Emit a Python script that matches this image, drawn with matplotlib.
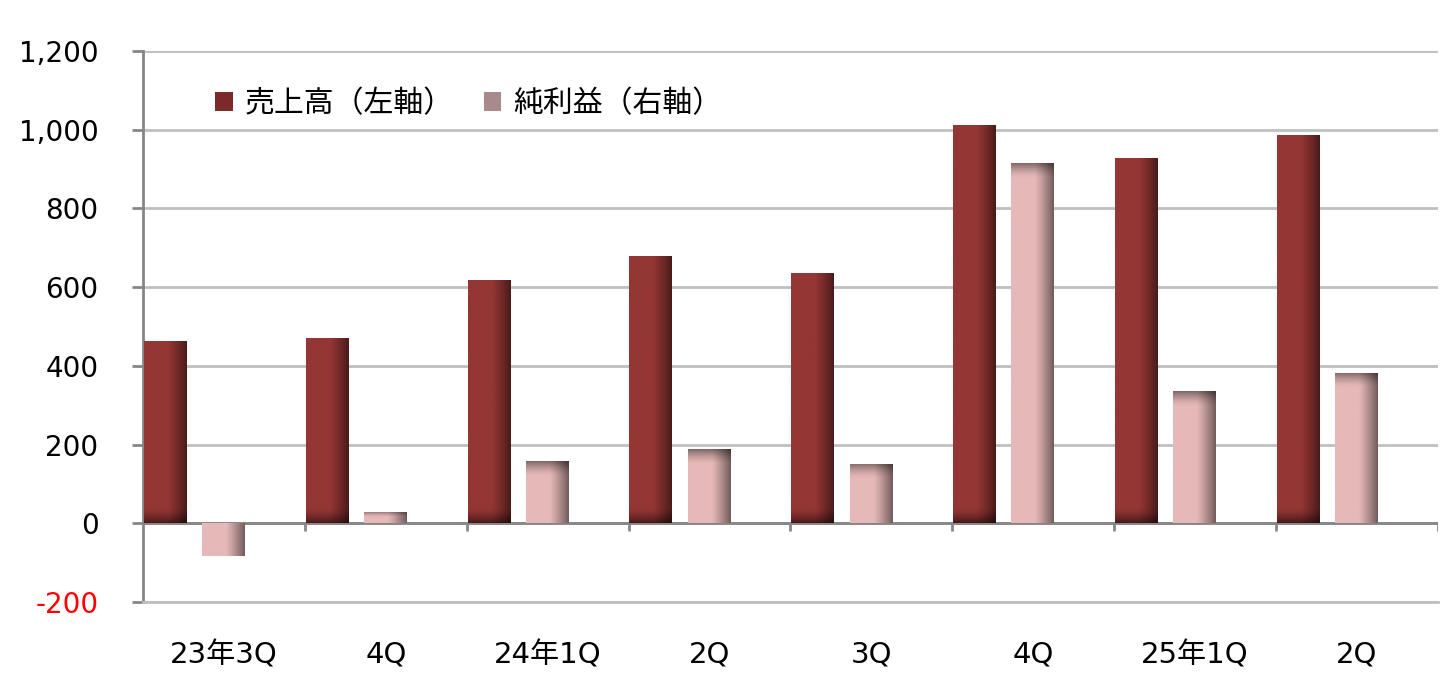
import matplotlib.pyplot as plt
import numpy as np
from matplotlib.colors import to_rgb
from matplotlib.patches import Patch

categories = ["23年3Q", "4Q", "24年1Q", "2Q", "3Q", "4Q", "25年1Q", "2Q"]
sales = [464, 470, 617, 680, 637, 1013, 929, 987]       # 売上高 (left axis)
net_profit = [-84, 28, 157, 188, 150, 916, 335, 383]    # 純利益 (right axis, hidden)

sales_color = "#943634"
profit_color = "#E6B9B8"
grid_color = "#BFBFBF"
axis_color = "#868686"


def shaded_bar(ax, x0, width, h, base, shade_side):
    """draw a bar with a dark right edge and a dark band at one end"""
    bars = ax.bar(x0, h, width=width, align="edge", color="none", edgecolor="none")
    patch = bars[0]
    nx, ny = 60, 200
    rgb = np.array(to_rgb(base))
    u = np.linspace(0, 1, nx)
    v = np.linspace(0, 1, ny)  # 0 = bottom row of bar, 1 = top
    # horizontal darkening towards the right edge
    hx = np.clip((u - 0.55) / 0.45, 0, 1) ** 1.2 * 0.5
    # vertical band
    band = min(38.0 / max(abs(h), 1), 0.5)
    if shade_side == "bottom":
        hv = np.clip((band - v) / band, 0, 1) ** 1.5 * 0.5
    elif shade_side == "top":
        hv = np.clip((v - (1 - band)) / band, 0, 1) ** 1.5 * 0.45
    else:
        hv = np.zeros_like(v)
    dark = 1 - (1 - hx[None, :]) * (1 - hv[:, None])
    img = rgb[None, None, :] * (1 - dark[:, :, None])
    y0, y1 = (0, h) if h >= 0 else (h, 0)
    if h < 0:
        img = img[::-1]
    im = ax.imshow(img, extent=(x0, x0 + width, y0, y1), origin="lower",
                   aspect="auto", interpolation="bilinear", zorder=3)
    im.set_clip_path(patch)


fig = plt.figure(figsize=(14.56, 6.8), dpi=100)
ax = fig.add_axes([0.0982, 0.1147, 0.8894, 0.8103])
ax2 = ax.twinx()

x = np.arange(len(categories))
bar_w = 0.26
for i in x:
    shaded_bar(ax, i + 0.005, bar_w, sales[i], sales_color, "bottom")
    p = net_profit[i]
    shaded_bar(ax2, i + 0.365, bar_w, p, profit_color, "top" if p >= 0 else "none")

for a in (ax, ax2):
    a.set_xlim(0, len(categories))
    a.set_ylim(-200, 1200)

ax.set_yticks(np.arange(-200, 1201, 200))
ax.set_yticklabels([f"{v:,}" for v in range(-200, 1201, 200)], fontsize=20,
                   family="DejaVu Sans")
ax.get_yticklabels()[0].set_color("red")
ax.tick_params(axis="y", length=8, width=2, color=axis_color, pad=24)
ax.grid(axis="y", color=grid_color, linewidth=2)
ax.set_axisbelow(True)

ax.set_xticks(x + 0.5)
ax.set_xticklabels(categories, fontsize=21, family=["DejaVu Sans", "Noto Sans CJK JP"])
ax.tick_params(axis="x", length=0, pad=28)

for s in ("top", "right"):
    ax.spines[s].set_visible(False)
ax.spines["bottom"].set_color(grid_color)
ax.spines["bottom"].set_linewidth(2)
ax.spines["left"].set_color(axis_color)
ax.spines["left"].set_linewidth(2)

# category axis sits on zero
ax.axhline(0, color=axis_color, linewidth=2, zorder=2)
ax.vlines(np.arange(1, len(categories) + 1), -20, 0, color=axis_color, linewidth=2, zorder=2)

ax2.axis("off")

handles = [Patch(facecolor="#7a2a28", label="売上高（左軸）"),
           Patch(facecolor="#a98a8a", label="純利益（右軸）")]
fig.legend(handles=handles, loc="center left", bbox_to_anchor=(0.129, 0.848), ncol=2,
           frameon=False, prop={"family": "Noto Sans CJK JP", "size": 21.5},
           handlelength=0.6, handleheight=0.6, handletextpad=0.4, columnspacing=1.0)

fig.savefig("out.png", dpi=100)
